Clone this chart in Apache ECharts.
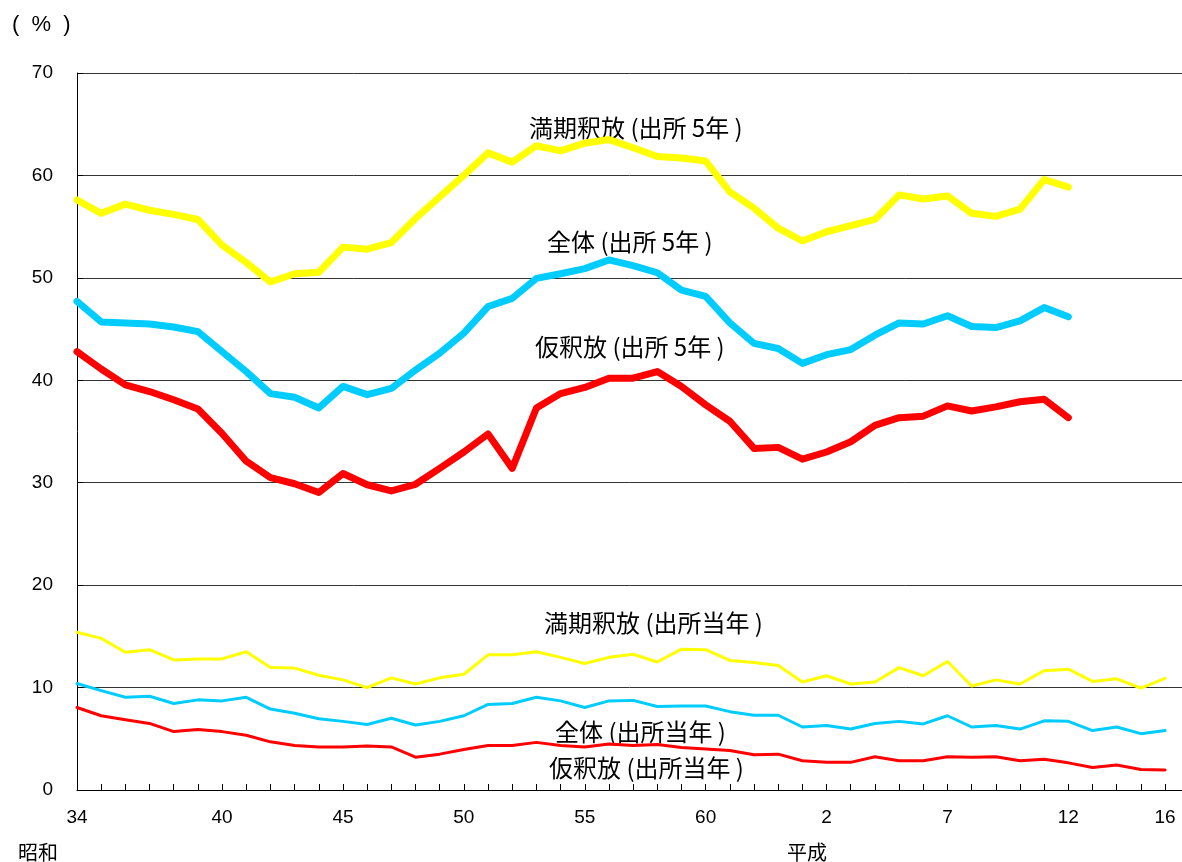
<!DOCTYPE html>
<html>
<head>
<meta charset="utf-8">
<script src="https://cdn.jsdelivr.net/npm/echarts@6/dist/echarts.min.js"></script>
<style>
html,body{margin:0;padding:0;background:#fff;}
#chart{width:1182px;height:862px;}
</style>
</head>
<body>
<div id="chart"></div>
<script>
// Categories: 昭和34〜63, 平成1〜16
const categories = ['34','35','36','37','38','39','40','41','42','43','44','45','46','47','48','49','50','51','52','53','54','55','56','57','58','59','60','61','62','63',
  '1','2','3','4','5','6','7','8','9','10','11','12','13','14','15','16'];
const tickLabels = ['34','40','45','50','55','60','2','7','12','16'];

// 出所5年 (through 平成12)
const mankiGo = [57.6,56.3,57.2,56.6,56.2,55.7,53.2,51.5,49.6,50.4,50.55,53.0,52.8,53.45,55.8,57.9,60.0,62.2,61.3,62.9,62.4,63.15,63.5,62.7,61.85,61.7,61.4,58.4,56.8,54.85,53.6,54.5,55.1,55.7,58.1,57.7,58.0,56.3,56.0,56.7,59.6,58.85];
const zentaiGo = [47.7,45.7,45.6,45.5,45.2,44.75,42.8,40.85,38.7,38.35,37.3,39.4,38.6,39.2,41.0,42.65,44.6,47.2,48.0,49.95,50.4,50.9,51.75,51.2,50.5,48.8,48.2,45.6,43.6,43.1,41.65,42.5,43.0,44.4,45.6,45.5,46.3,45.25,45.15,45.8,47.1,46.2];
const karishakuGo = [42.8,41.1,39.55,38.9,38.1,37.2,34.8,32.1,30.5,29.9,29.05,30.9,29.8,29.2,29.85,31.4,33.0,34.75,31.4,37.3,38.7,39.3,40.2,40.2,40.85,39.4,37.6,36.0,33.35,33.45,32.3,33.0,34.0,35.6,36.35,36.5,37.5,37.0,37.4,37.9,38.15,36.35];

// 出所当年 (through 平成16)
const mankiTo = [15.4,14.8,13.45,13.7,12.7,12.8,12.8,13.5,11.95,11.9,11.2,10.75,10.0,10.95,10.35,10.95,11.3,13.2,13.2,13.5,12.95,12.35,12.95,13.25,12.5,13.75,13.7,12.65,12.45,12.15,10.55,11.15,10.35,10.55,11.95,11.15,12.55,10.15,10.75,10.35,11.65,11.8,10.6,10.85,9.95,10.9];
const zentaiTo = [10.4,9.7,9.05,9.15,8.45,8.8,8.7,9.05,7.9,7.5,6.95,6.7,6.4,7.0,6.35,6.7,7.25,8.35,8.45,9.05,8.7,8.05,8.7,8.75,8.15,8.2,8.2,7.65,7.3,7.3,6.15,6.3,5.95,6.5,6.7,6.45,7.25,6.15,6.3,5.95,6.75,6.7,5.8,6.15,5.5,5.8];
const karishakuTo = [8.05,7.25,6.85,6.5,5.7,5.9,5.7,5.35,4.7,4.35,4.2,4.2,4.3,4.2,3.2,3.5,3.95,4.35,4.35,4.65,4.35,4.2,4.5,4.35,4.45,4.15,4.0,3.85,3.45,3.5,2.85,2.7,2.7,3.25,2.85,2.85,3.25,3.2,3.25,2.85,3.0,2.65,2.2,2.45,2.0,1.95];

const YELLOW = '#FFFF00', CYAN = '#00CCFF', RED = '#FF0000';
const NUM_FONT = "'Liberation Sans', 'Noto Sans CJK JP', sans-serif";
const JP_FONT = "'Noto Sans CJK JP', sans-serif";

// pair each value with its year index on the x scale
const pairs = arr => arr.map((v, i) => [i, v]);

function line(name, data, color, width) {
  return {
    name, type: 'line', data: pairs(data), symbol: 'none', smooth: false,
    lineStyle: { color, width, cap: 'round', join: 'round' },
    emphasis: { disabled: true }, silent: true
  };
}

function label(text, x, y, size) {
  return {
    type: 'text', x, y, silent: true,
    style: { text, font: (size || 24) + 'px ' + JP_FONT, fill: '#000',
             textAlign: 'left', textVerticalAlign: 'middle' }
  };
}

const chart = echarts.init(document.getElementById('chart'), null, { renderer: 'canvas' });
chart.setOption({
  animation: false,
  backgroundColor: '#fff',
  grid: { left: 77, top: 73, right: 0, bottom: 72, containLabel: false },
  xAxis: {
    type: 'value', min: 0, max: 45.7, interval: 1,
    axisLine: { lineStyle: { color: '#000', width: 1 } },
    axisTick: { show: true, inside: true, length: 6, lineStyle: { color: '#000' } },
    axisLabel: {
      formatter: v => {
        const c = Number.isInteger(v) ? categories[v] : undefined;
        return c !== undefined && tickLabels.includes(c) ? c : '';
      },
      showMinLabel: true, showMaxLabel: false,
      color: '#000', fontSize: 19, fontFamily: NUM_FONT, margin: 18
    },
    splitLine: { show: false }
  },
  yAxis: {
    type: 'value', min: 0, max: 70, interval: 10,
    axisLine: { show: true, lineStyle: { color: '#000', width: 1 } },
    axisTick: { show: true, inside: true, length: 6, lineStyle: { color: '#000' } },
    axisLabel: { color: '#000', fontSize: 19, fontFamily: NUM_FONT, margin: 24 },
    splitLine: { show: true, lineStyle: { color: '#333', width: 1 } }
  },
  series: [
    line('満期釈放 (出所当年)', mankiTo, YELLOW, 3),
    line('全体 (出所当年)', zentaiTo, CYAN, 3),
    line('仮釈放 (出所当年)', karishakuTo, RED, 3),
    line('満期釈放 (出所5年)', mankiGo, YELLOW, 7),
    line('全体 (出所5年)', zentaiGo, CYAN, 7),
    line('仮釈放 (出所5年)', karishakuGo, RED, 7)
  ],
  graphic: [
    { type: 'text', x: 12, y: 25, silent: true,
      style: { text: '(  %  )', font: '22px ' + NUM_FONT, fill: '#000', textAlign: 'left', textVerticalAlign: 'middle' } },
    label('満期釈放 (出所 5年 )', 529, 128),
    label('全体 (出所 5年 )', 547, 242),
    label('仮釈放 (出所 5年 )', 535, 347),
    label('満期釈放 (出所当年 )', 544, 623),
    label('全体 (出所当年 )', 555, 732),
    label('仮釈放 (出所当年 )', 549, 768),
    label('昭和', 18, 852, 20),
    label('平成', 787, 852, 20)
  ]
});
</script>
</body>
</html>
